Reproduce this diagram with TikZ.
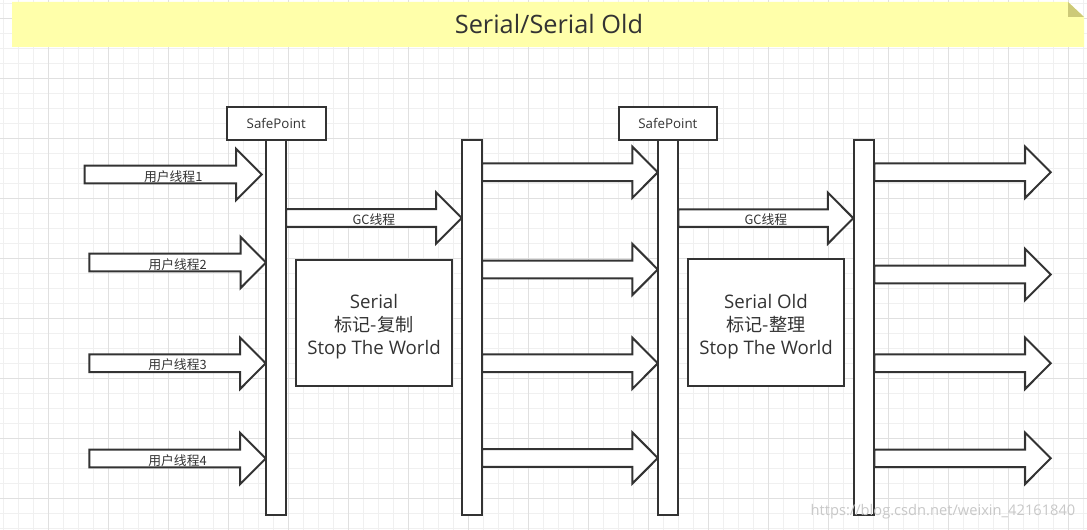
\documentclass[tikz,border=0pt]{standalone}
\usepackage{fontspec}
\setmainfont{Open Sans}
\newfontfamily\cjk{Noto Sans CJK SC}
\usetikzlibrary{fit}
\definecolor{ln}{RGB}{51,51,51}
\definecolor{gridminor}{RGB}{240,240,240}
\definecolor{gridmajor}{RGB}{224,224,224}
\definecolor{notefill}{RGB}{255,255,170}
\definecolor{notefold}{RGB}{205,202,120}
\definecolor{wmark}{RGB}{200,200,200}
\newcommand\plainarrow[3]{% x0, x1, y
  \draw[outline] (#1,#3-8.8) -- (#2-25.5,#3-8.8) -- (#2-25.5,#3-25.6) -- (#2,#3)
    -- (#2-25.5,#3+25.6) -- (#2-25.5,#3+8.8) -- (#1,#3+8.8) -- cycle;}
\newcommand\labelarrow[5]{% name, x0, x1, y, label
  \plainarrow{#2}{#3}{#4}
  \node[arrlabel] (#1) at ({(#2+#3)/2},#4+1.8) {#5};}
\begin{document}
\begin{tikzpicture}[x=0.75pt,y=-0.75pt,
  outline/.style={draw=ln, line width=1.5pt, fill=white, line join=miter},
  rectbox/.style={outline, inner sep=0pt},
  arrlabel/.style={inner sep=0pt, text=ln, font=\cjk\fontsize{9.6pt}{11pt}\selectfont},
  boxtext/.style={inner sep=0pt, text=ln, align=center, font=\fontsize{14pt}{17.5pt}\selectfont},
  sptext/.style={inner sep=0pt, text=ln, font=\fontsize{10pt}{12pt}\selectfont}]
\useasboundingbox (0,0) rectangle (1087,530);
\fill[white] (0,0) rectangle (1087,530);
% grid
\foreach \x in {3.3,18.3,...,1087} \draw[gridminor, line width=0.75pt] (\x,0) -- (\x,530);
\foreach \y in {3.3,18.3,...,530} \draw[gridminor, line width=0.75pt] (0,\y) -- (1087,\y);
\foreach \x in {48.3,108.3,...,1087} \draw[gridmajor, line width=0.75pt] (\x,0) -- (\x,530);
\foreach \y in {18.3,78.3,...,530} \draw[gridmajor, line width=0.75pt] (0,\y) -- (1087,\y);
% title note
\fill[notefill] (12,2) -- (1068,2) -- (1084,17) -- (1084,47) -- (12,47) -- cycle;
\fill[notefold] (1068,2) -- (1084,17) -- (1068,17) -- cycle;
\node[inner sep=0pt, text=ln, font=\fontsize{19pt}{22pt}\selectfont] (title) at (549,24.5) {Serial/Serial Old};
% user thread arrows
\labelarrow{u1}{84.7}{261.7}{174.5}{用户线程1}
\labelarrow{u2}{89.3}{266}{262.5}{用户线程2}
\labelarrow{u3}{89.3}{265.7}{363.3}{用户线程3}
\labelarrow{u4}{89.3}{265.7}{458.5}{用户线程4}
% GC arrows
\labelarrow{gc1}{286}{461.7}{218}{GC线程}
\labelarrow{gc2}{678.3}{853.3}{218.2}{GC线程}
% bar2 -> bar3
\plainarrow{482}{657.8}{172.3}
\plainarrow{482}{657.8}{269.5}
\plainarrow{482}{657.8}{363.3}
\plainarrow{482}{657.8}{458}
% bar4 -> out
\plainarrow{874.3}{1050.7}{172.3}
\plainarrow{874.3}{1050.7}{274.5}
\plainarrow{874.3}{1050.7}{363.3}
\plainarrow{874.3}{1050.7}{458.3}
% bars
\node[rectbox, fit={(266,140) (286,515)}] (bar1) {};
\node[rectbox, fit={(461.7,140) (482,515)}] (bar2) {};
\node[rectbox, fit={(658.3,140) (678.3,515)}] (bar3) {};
\node[rectbox, fit={(854.3,140) (874.3,515)}] (bar4) {};
% safepoints
\node[rectbox, fit={(227,106.7) (325.5,140)}] (sp1) {};
\node[sptext] (sp1t) at (sp1.center) {SafePoint};
\node[rectbox, fit={(618.5,106.7) (717.3,140)}] (sp2) {};
\node[sptext] (sp2t) at (sp2.center) {SafePoint};
% STW boxes
\node[rectbox, fit={(295.7,260) (452.3,385.5)}] (serial) {};
\node[boxtext] (serialt) at (374,326.5) {Serial\\{\cjk\fontsize{13.6pt}{17.5pt}\selectfont 标记-复制}\\Stop The World};
\node[rectbox, fit={(687.7,259.5) (844.3,386)}] (old) {};
\node[boxtext] (oldt) at (766,326.5) {Serial Old\\{\cjk\fontsize{13.6pt}{17.5pt}\selectfont 标记-整理}\\Stop The World};
% watermark
\node[inner sep=0pt, text=wmark, font=\fontsize{11pt}{13pt}\selectfont] (wm) at (943,512) {https://blog.csdn.net/weixin\_42161840};
\end{tikzpicture}
\end{document}
